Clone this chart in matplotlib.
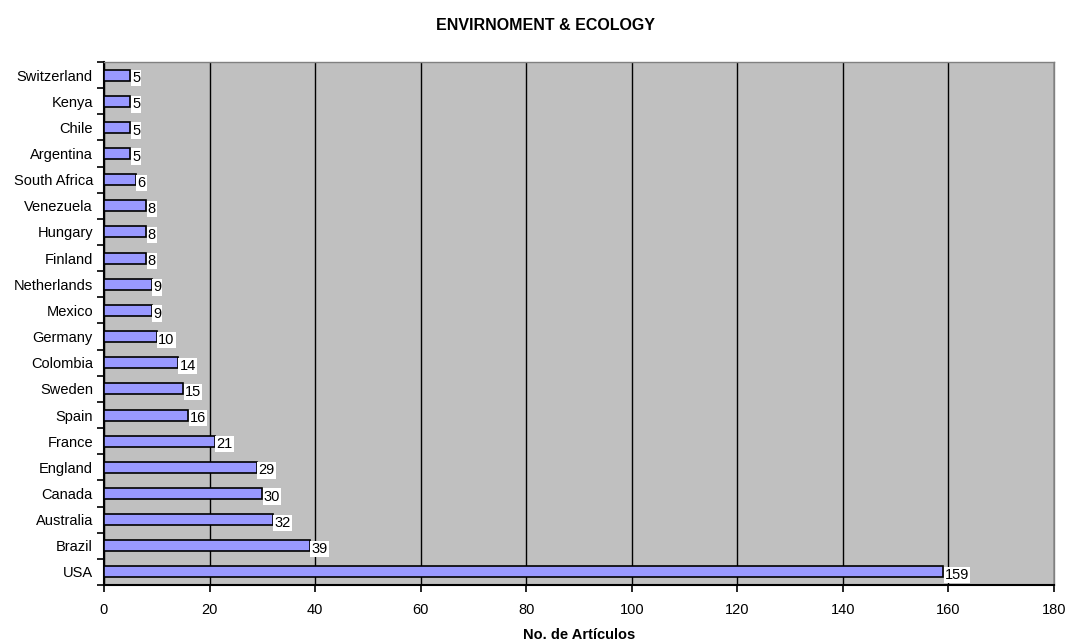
import matplotlib
matplotlib.use("Agg")
import matplotlib.pyplot as plt
import numpy as np

plt.rcParams['font.family'] = ['Liberation Sans', 'DejaVu Sans']

countries = ["USA", "Brazil", "Australia", "Canada", "England", "France", "Spain",
             "Sweden", "Colombia", "Germany", "Mexico", "Netherlands", "Finland",
             "Hungary", "Venezuela", "South Africa", "Argentina", "Chile", "Kenya",
             "Switzerland"]
articles = [159, 39, 32, 30, 29, 21, 16, 15, 14, 10, 9, 9, 8, 8, 8, 6, 5, 5, 5, 5]
xticks = [0, 20, 40, 60, 80, 100, 120, 140, 160, 180]

fig = plt.figure(figsize=(10.69, 6.44), dpi=100)
ax = fig.add_axes([104/1069, 1-585/644, (1054-104)/1069, (585-62)/644])
ax.set_facecolor('#c0c0c0')

y = np.arange(len(countries))
ax.barh(y, articles, height=0.42, color='#9999ff', edgecolor='black', linewidth=1.2, zorder=3)
for yi, v in zip(y, articles):
    ax.text(v + 0.3, yi - 0.12, str(v), va='center', ha='left', fontsize=10.5,
            bbox=dict(facecolor='white', edgecolor='none', pad=0.8), zorder=4)

ax.set_xlim(0, 180)
ax.set_ylim(-0.5, len(countries) - 0.5)
ax.set_xticks(xticks)
ax.set_xticklabels([str(t) for t in xticks], fontsize=10.5)
ax.xaxis.grid(True, color='black', linewidth=1.0, zorder=1)
ax.set_axisbelow(True)

ax.set_yticks(y)
ax.set_yticklabels(countries, fontsize=10.5)
ax.tick_params(axis='y', which='major', length=0, pad=8)
ax.set_yticks(np.arange(-0.5, len(countries), 1.0), minor=True)
ax.tick_params(axis='y', which='minor', length=5, width=1.2, direction='out')
ax.tick_params(axis='x', which='major', length=5, width=1.2, direction='out', pad=8)

for s in ['left', 'bottom']:
    ax.spines[s].set_linewidth(1.5)
    ax.spines[s].set_color('black')
for s in ['top', 'right']:
    ax.spines[s].set_color('#808080')
    ax.spines[s].set_linewidth(1.0)

ax.set_xlabel("No. de Artículos", fontsize=10.5, fontweight='bold', labelpad=8)
fig.text(545/1069, 1-25/644, "ENVIRNOMENT & ECOLOGY", ha='center', va='center',
         fontsize=11.5, fontweight='bold')

fig.savefig("out.png", dpi=100)
